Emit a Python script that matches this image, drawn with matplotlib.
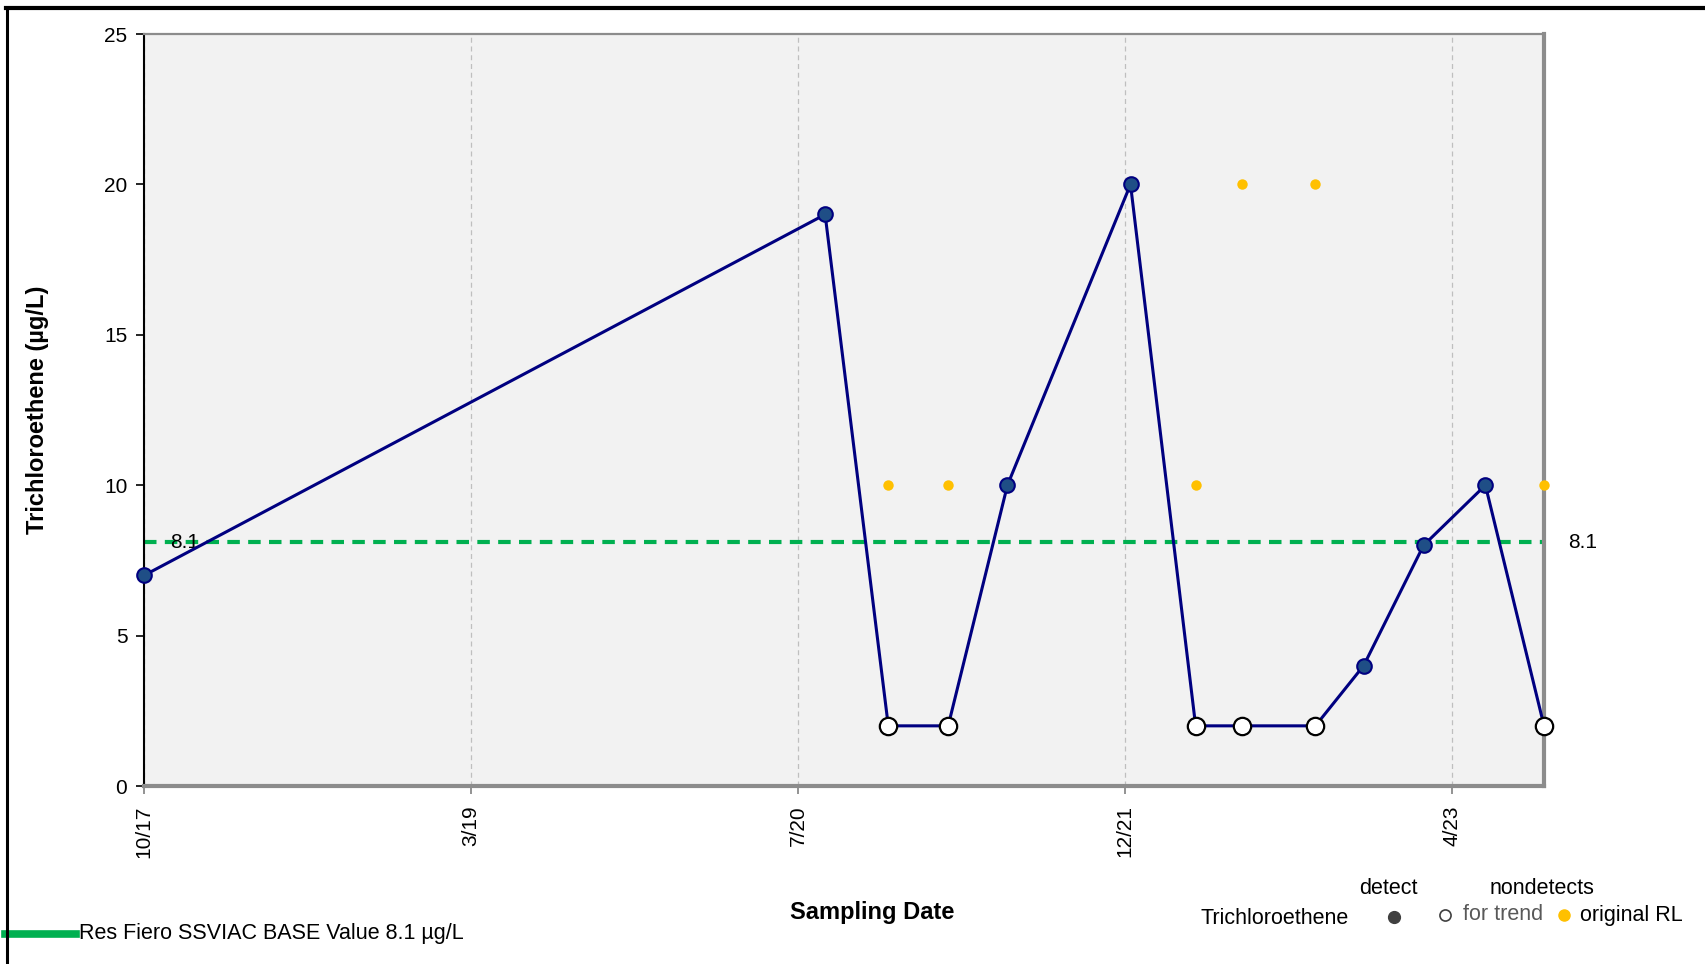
import matplotlib
matplotlib.use("Agg")
import matplotlib.pyplot as plt
import matplotlib.dates as mdates
from matplotlib.lines import Line2D
import datetime as dt

plt.rcParams['font.family'] = ['Liberation Sans', 'DejaVu Sans']

# ---- data ----
dates = ["2017-10-25", "2020-09-05", "2020-12-11", "2021-03-13", "2021-06-12",
         "2021-12-18", "2022-03-28", "2022-06-07", "2022-09-28", "2022-12-11",
         "2023-03-13", "2023-06-16", "2023-09-14"]
values = [7, 19, 2, 2, 10, 20, 2, 2, 2, 4, 8, 10, 2]
detected = [True, True, False, False, True, True, False, False, False, True, True, True, False]
original_rl = [None, None, 10, 10, None, None, 10, 20, 20, None, None, None, 10]
tick_dates = ["2017-10-25", "2019-03-11", "2020-07-26", "2021-12-10", "2023-04-26"]
tick_labels = ["10/17", "3/19", "7/20", "12/21", "4/23"]
xlim_dates = ["2017-10-25", "2023-09-14"]
base_value = 8.1
y_ticks = [0, 5, 10, 15, 20, 25]

def d(s):
    return mdates.date2num(dt.datetime.strptime(s, "%Y-%m-%d"))

x = [d(s) for s in dates]

W, H = 1705, 964
fig = plt.figure(figsize=(W / 100, H / 100), dpi=100)
ax = fig.add_axes([144 / W, 1 - 786 / H, (1544 - 144) / W, (786 - 34) / H])
ax.set_facecolor("#F2F2F2")

# gridlines
tx = [d(s) for s in tick_dates]
ax.set_xticks(tx)
ax.set_xticklabels(tick_labels, rotation=90, fontsize=15)
ax.xaxis.grid(True, color="#BFBFBF", linestyle=(0, (4, 3)), linewidth=0.9)
ax.set_xlim(d(xlim_dates[0]), d(xlim_dates[1]))
ax.set_ylim(0, 25)
ax.set_yticks(y_ticks)
ax.tick_params(axis="y", labelsize=15, direction="out", length=6, width=1.2, color="black", pad=6)
ax.tick_params(axis="x", direction="out", length=6, width=1.2, color="#808080", pad=8)

for s in ["top", "right", "bottom"]:
    ax.spines[s].set_color("#8C8C8C")
ax.spines["top"].set_linewidth(1.6)
ax.spines["right"].set_linewidth(3)
ax.spines["bottom"].set_linewidth(3)
ax.spines["left"].set_color("black")
ax.spines["left"].set_linewidth(1.5)

# base value line
ax.axhline(base_value, color="#00B050", linewidth=3, linestyle=(0, (3, 2)), zorder=2)
ax.text(d(xlim_dates[0]) + 40, base_value, "8.1", fontsize=15, va="center", ha="left", zorder=3)
ax.text(1.017, base_value, "8.1", fontsize=15, va="center", ha="left",
        transform=ax.get_yaxis_transform(), clip_on=False)

# series line
ax.plot(x, values, color="#000080", linewidth=2.2, zorder=3, clip_on=False)
xd = [xi for xi, v, f in zip(x, values, detected) if f]
yd = [v for v, f in zip(values, detected) if f]
xn = [xi for xi, v, f in zip(x, values, detected) if not f]
yn = [v for v, f in zip(values, detected) if not f]
ax.plot(xd, yd, "o", markersize=10.5, markerfacecolor="#1F4E86", markeredgecolor="#000080",
        markeredgewidth=1.5, linestyle="none", zorder=4, clip_on=False)
ax.plot(xn, yn, "o", markersize=12.5, markerfacecolor="white", markeredgecolor="black",
        markeredgewidth=1.6, linestyle="none", zorder=4, clip_on=False)
xr = [xi for xi, r in zip(x, original_rl) if r is not None]
yr = [r for r in original_rl if r is not None]
ax.plot(xr, yr, "o", markersize=7.5, markerfacecolor="#FFC000", markeredgecolor="none",
        linestyle="none", zorder=4, clip_on=False)

ax.set_ylabel("Trichloroethene (µg/L)", fontsize=17, fontweight="bold")
ax.yaxis.set_label_coords(-0.068, 0.5)
fig.text(872 / W, 1 - 913 / H, "Sampling Date", fontsize=17, fontweight="bold",
         ha="center", va="center")

# legend (bottom right)
fs = 15.5
fig.text(1388 / W, 1 - 889 / H, "detect", fontsize=fs, ha="center", va="center")
fig.text(1542 / W, 1 - 889 / H, "nondetects", fontsize=fs, ha="center", va="center")
fig.text(1275 / W, 1 - 918 / H, "Trichloroethene", fontsize=fs, ha="center", va="center")
fig.text(1503 / W, 1 - 915 / H, "for trend", fontsize=fs, ha="center", va="center", color="#595959")
fig.text(1631 / W, 1 - 915 / H, "original RL", fontsize=fs, ha="center", va="center")
fig.add_artist(Line2D([1394 / W], [1 - 917 / H], marker="o", markersize=8.5,
                      markerfacecolor="#404040", markeredgecolor="#404040", linestyle="none"))
fig.add_artist(Line2D([1445 / W], [1 - 915 / H], marker="o", markersize=8,
                      markerfacecolor="white", markeredgecolor="#404040", markeredgewidth=1.2,
                      linestyle="none"))
fig.add_artist(Line2D([1564 / W], [1 - 915 / H], marker="o", markersize=8,
                      markerfacecolor="#FFC000", markeredgecolor="#FFC000", linestyle="none"))

# legend (bottom left)
fig.add_artist(Line2D([5 / W, 76 / W], [1 - 934 / H, 1 - 934 / H], color="#00B050", linewidth=5.5))
fig.text(79 / W, 1 - 934 / H, "Res Fiero SSVIAC BASE Value 8.1 µg/L", fontsize=fs,
         ha="left", va="center")

# figure frame (left & top)
fig.add_artist(Line2D([7 / W, 7 / W], [0, 1 - 8 / H], color="black", linewidth=2.2))
fig.add_artist(Line2D([6 / W, 1], [1 - 8 / H, 1 - 8 / H], color="black", linewidth=3))

fig.savefig("out.png", dpi=100)
